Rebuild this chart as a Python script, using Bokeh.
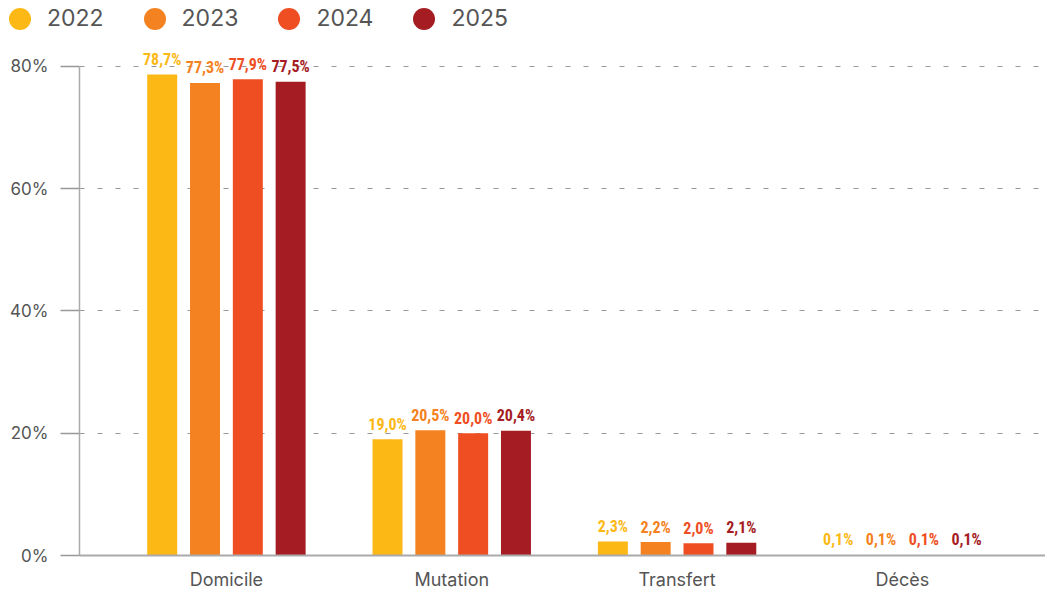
import numpy as np
from bokeh.plotting import figure
from bokeh.layouts import column, row
from bokeh.models import (ColumnDataSource, Range1d, FixedTicker, PrintfTickFormatter,
                          Legend, LegendItem)
from bokeh.core.properties import value
from bokeh.embed import file_html
from bokeh.resources import INLINE

categories = ["Domicile", "Mutation", "Transfert", "Décès"]
years = ["2022", "2023", "2024", "2025"]
v2022 = [78.7, 19.0, 2.3, 0.1]
v2023 = [77.3, 20.5, 2.2, 0.1]
v2024 = [77.9, 20.0, 2.0, 0.1]
v2025 = [77.5, 20.4, 2.1, 0.1]
series = [v2022, v2023, v2024, v2025]
colors = ["#FCB815", "#F48220", "#EF4E23", "#A51C23"]
y_ticks = [0, 20, 40, 60, 80]

TEXT = "#555555"
FONT = "Inter"
LABEL_FONT = "Roboto Condensed"

LEG_H = 40
p = figure(width=1045, height=593 - LEG_H, output_backend="svg", toolbar_location=None,
           x_range=Range1d(-0.652, 3.635), y_range=Range1d(0, 84.25),
           min_border_left=79, min_border_right=0, min_border_top=0,
           min_border_bottom=38)
p.outline_line_color = None

lf = figure(width=1045, height=LEG_H, output_backend="svg", toolbar_location=None,
            x_range=Range1d(0, 1), y_range=Range1d(0, 1), min_border=0,
            x_axis_location=None, y_axis_location=None)
lf.grid.visible = False
lf.outline_line_color = None

step = 0.19
width = 0.133
items = []
for j, (yr, vals, col) in enumerate(zip(years, series, colors)):
    xs = np.arange(len(categories)) + (j - 1.5) * step
    labels = [f"{v:.1f}".replace(".", ",") + "%" for v in vals]
    src = ColumnDataSource(dict(x=xs, top=vals, lab=labels))
    p.vbar(x="x", top="top", width=width, source=src, fill_color=col, line_color=None)
    p.text(x="x", y="top", text="lab", source=src, text_align="center",
           text_baseline="alphabetic", y_offset=-15, text_color=col,
           text_font=value(LABEL_FONT), text_font_style="bold",
           text_font_size="16px")
    r = lf.scatter(x=[np.nan], y=[np.nan], size=22, fill_color=col, line_color=None,
                   marker="circle")
    items.append(LegendItem(label=yr, renderers=[r]))

legend = Legend(items=items, orientation="horizontal", location=(-8, -5.5),
                glyph_width=55, glyph_height=55, label_standoff=0, spacing=23,
                padding=0, margin=0, border_line_color=None, background_fill_alpha=0,
                label_text_font=FONT, label_text_font_size="23px",
                label_text_color=TEXT)
lf.add_layout(legend, "center")

# y axis
ya = p.yaxis[0]
ya.ticker = FixedTicker(ticks=y_ticks)
ya.formatter = PrintfTickFormatter(format="%d%%")
ya.bounds = (0, 80)
ya.axis_line_color = "#AAAAAA"
ya.axis_line_width = 1.5
ya.major_tick_line_color = "#999999"
ya.major_tick_line_width = 1.5
ya.major_tick_out = 19
ya.major_tick_in = 0
ya.minor_tick_out = 0
ya.minor_tick_in = 0
ya.major_label_standoff = 12
ya.major_label_text_font = FONT
ya.major_label_text_font_size = "17px"
ya.major_label_text_color = TEXT

# x axis
xa = p.xaxis[0]
xa.ticker = FixedTicker(ticks=list(range(len(categories))))
xa.major_label_overrides = {i: c for i, c in enumerate(categories)}
xa.axis_line_color = "#AAAAAA"
xa.axis_line_width = 2
xa.major_tick_out = 0
xa.major_tick_in = 0
xa.minor_tick_out = 0
xa.minor_tick_in = 0
xa.major_label_standoff = 13
xa.major_label_text_font = FONT
xa.major_label_text_font_size = "18px"
xa.major_label_text_color = TEXT

p.xgrid.grid_line_color = None
p.ygrid.ticker = FixedTicker(ticks=y_ticks)
p.ygrid.grid_line_color = "#999999"
p.ygrid.grid_line_dash = "5 13"
p.ygrid.grid_line_width = 1

open("out.html", "w").write(file_html(column(row(lf), p), INLINE))
